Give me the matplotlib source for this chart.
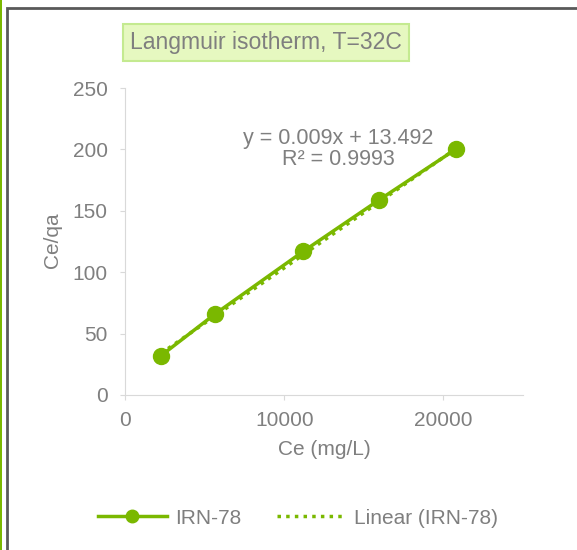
import matplotlib.pyplot as plt
import numpy as np
from matplotlib.patches import Rectangle
from matplotlib.lines import Line2D

# data
ce = [2260, 5660, 11200, 15980, 20820]
ce_qa = [32.0, 66.0, 117.0, 159.0, 200.5]
slope, intercept = 0.009, 13.492
r2 = 0.9993

x_ticks = [0, 10000, 20000]
y_ticks = [0, 50, 100, 150, 200, 250]

green = '#7AB800'
txt = '#7f7f7f'
W, H = 577, 550

plt.rcParams['font.family'] = ['Liberation Sans', 'DejaVu Sans']

fig = plt.figure(figsize=(W / 100, H / 100), dpi=100)
ax = fig.add_axes([125 / W, 1 - 395 / H, (523 - 125) / W, (395 - 88) / H])

ax.plot(ce, ce_qa, color=green, lw=2.5, marker='o', ms=11.5, zorder=3)
xt = np.array([ce[0], ce[-1]])
ax.plot(xt, slope * xt + intercept, color=green, lw=2.5, ls=(0, (1, 1.5)), zorder=2)

ax.set_xlim(0, 25000)
ax.set_ylim(0, 250)
ax.set_xticks(x_ticks)
ax.set_yticks(y_ticks)
for s in ['top', 'right']:
    ax.spines[s].set_visible(False)
for s in ['left', 'bottom']:
    ax.spines[s].set_color('#d9d9d9')
ax.tick_params(colors='#d9d9d9', labelcolor=txt, labelsize=15, length=3.5)
ax.tick_params(axis='y', pad=9)
ax.tick_params(axis='x', pad=8)
ax.set_xlabel('Ce (mg/L)', fontsize=15, color=txt)
ax.set_ylabel('Ce/qa', fontsize=15, color=txt)
ax.xaxis.set_label_coords(0.5, -0.148)
ax.yaxis.set_label_coords(-0.158, 0.505)

fig.text(338 / W, 1 - 149 / H, f'y = {slope}x + {intercept}\nR² = {r2}',
         ha='center', va='center', fontsize=15.5, color=txt, linespacing=1.05)

fig.text(266 / W, 1 - 42.5 / H, 'Langmuir isotherm, T=32C', ha='center', va='center',
         fontsize=16.6, color=txt,
         bbox=dict(boxstyle='square,pad=0.3', fc='#e6f8c0', ec='#c4ea90', lw=1.5))

handles = [Line2D([], [], color=green, lw=2.5, marker='o', ms=9),
           Line2D([], [], color=green, lw=2.5, ls=(0, (1, 1.5)))]
fig.legend(handles, ['IRN-78', 'Linear (IRN-78)'], loc='center',
           bbox_to_anchor=(298 / W, 1 - 518 / H), ncol=2, frameon=False,
           fontsize=15, labelcolor=txt, handlelength=3.3, handletextpad=0.4,
           columnspacing=1.7)

# screenshot frame
fig.patches.append(Rectangle((6.5 / W, -0.1), 1, 1 - 7.5 / H + 0.1, transform=fig.transFigure,
                             fill=False, ec='#595959', lw=2))
fig.patches.append(Rectangle((0, 0), 1.5 / W, 1, transform=fig.transFigure,
                             fc=green, ec='none'))

fig.savefig('out.png', dpi=100)
